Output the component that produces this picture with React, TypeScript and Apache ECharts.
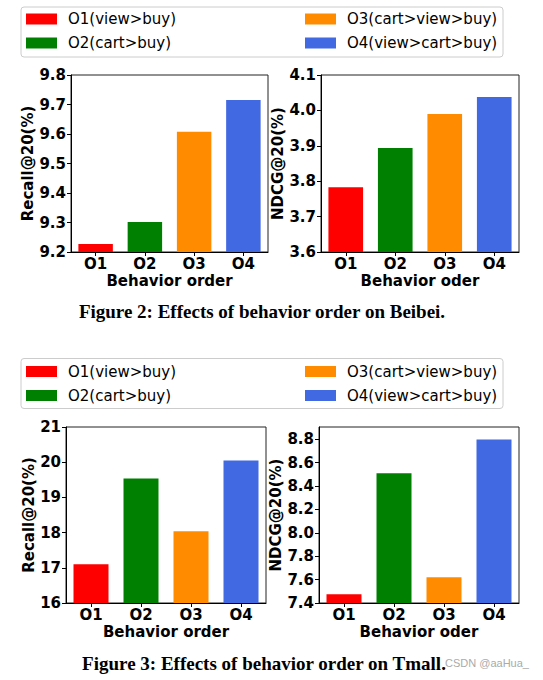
import React, { useEffect, useRef } from "react";
import * as echarts from "echarts";

const categories = ["O1", "O2", "O3", "O4"];
const legendNames = ["O1(view>buy)", "O2(cart>buy)", "O3(cart>view>buy)", "O4(view>cart>buy)"];
const colors = ["#ff0000", "#008000", "#ff8c00", "#4169e1"];

const beibeiRecall = [9.227, 9.302, 9.608, 9.715];
const beibeiNdcg = [3.783, 3.894, 3.99, 4.038];
const tmallRecall = [17.1, 19.54, 18.04, 20.05];
const tmallNdcg = [7.474, 8.509, 7.62, 8.798];

const tmallNdcgTicks = [7.4, 7.6, 7.8, 8.0, 8.2, 8.4, 8.6, 8.8];

const captionBeibei = "Figure 2: Effects of behavior order on Beibei.";
const captionTmall = "Figure 3: Effects of behavior order on Tmall.";
const watermark = "CSDN @aaHua_";

const FONT = "DejaVu Sans";

type Panel = {
  values: number[];
  yName: string;
  xName: string;
  min: number;
  max: number;
  interval: number;
  digits: number;
  grid: { left: number; top: number; width: number; height: number };
  nameGap: number;
  customTicks?: number[];
};

const panels: Panel[] = [
  { values: beibeiRecall, yName: "Recall@20(%)", xName: "Behavior order", min: 9.2, max: 9.8, interval: 0.1, digits: 1,
    grid: { left: 71, top: 75, width: 197, height: 177 }, nameGap: 31 },
  { values: beibeiNdcg, yName: "NDCG@20(%)", xName: "Behavior oder", min: 3.6, max: 4.1, interval: 0.1, digits: 1,
    grid: { left: 321, top: 75, width: 198, height: 177 }, nameGap: 29 },
  { values: tmallRecall, yName: "Recall@20(%)", xName: "Behavior order", min: 16, max: 21, interval: 1, digits: 0,
    grid: { left: 66, top: 427, width: 200, height: 176 }, nameGap: 26 },
  { values: tmallNdcg, yName: "NDCG@20(%)", xName: "Behavior oder", min: 7.4, max: 8.905, interval: 0.2, digits: 1,
    grid: { left: 319, top: 427, width: 200, height: 176 }, nameGap: 29, customTicks: tmallNdcgTicks },
];

export default function App() {
  const ref = useRef<HTMLDivElement>(null);
  useEffect(() => {
    if (!ref.current) return;
    const chart = echarts.init(ref.current, null, { renderer: "svg" });
    const boldText = { fontFamily: FONT, fontWeight: "bold" as const, fontSize: 15, color: "#000" };

    const grids = panels.map((p) => ({
      ...p.grid,
      show: true,
      borderColor: "#222",
      borderWidth: 1,
      backgroundColor: "transparent",
      containLabel: false,
    }));

    const xAxes = panels.map((p, i) => ({
      type: "category",
      gridIndex: i,
      data: categories,
      boundaryGap: true,
      axisLine: { show: true, lineStyle: { color: "#000", width: 1 } },
      axisTick: { show: true, alignWithLabel: true, length: 4, lineStyle: { color: "#000" } },
      axisLabel: { ...boldText, margin: 4 },
      name: p.xName,
      nameLocation: "middle",
      nameGap: 21,
      nameTextStyle: boldText,
    }));

    const yAxes = panels.map((p, i) => {
      const ax: any = {
        type: "value",
        gridIndex: i,
        min: p.min,
        max: p.max,
        interval: p.interval,
        axisLine: { show: true, lineStyle: { color: "#000", width: 1 } },
        axisTick: { show: true, length: 4, lineStyle: { color: "#000" } },
        axisLabel: {
          ...boldText,
          margin: 5,
          formatter: (v: number) => v.toFixed(p.digits),
        },
        splitLine: { show: false },
        name: p.yName,
        nameLocation: "middle",
        nameGap: p.nameGap,
        nameTextStyle: boldText,
      };
      if (p.customTicks) {
        ax.axisTick.customValues = p.customTicks;
        ax.axisLabel.customValues = p.customTicks;
      }
      return ax;
    });

    const series: any[] = [];
    panels.forEach((p, i) => {
      categories.forEach((_, k) => {
        series.push({
          type: "bar",
          name: legendNames[k],
          xAxisIndex: i,
          yAxisIndex: i,
          data: p.values.map((v, j) => (j === k ? v : "-")),
          barWidth: "70%",
          barGap: "-100%",
          itemStyle: { color: colors[k] },
          emphasis: { disabled: true },
        });
      });
    });

    const legendBase = {
      orient: "vertical",
      itemWidth: 31,
      itemHeight: 11,
      itemGap: 8,
      padding: 0,
      icon: "rect",
      selectedMode: false,
      z: 5,
      textStyle: { fontFamily: FONT, fontSize: 15, color: "#000", lineHeight: 16, padding: [0, 0, 0, 6] },
    };
    const legendTops = [11, 363.5];
    const legends: any[] = [];
    legendTops.forEach((top) => {
      legends.push({ ...legendBase, left: 26, top, data: [legendNames[0], legendNames[1]] });
      legends.push({ ...legendBase, left: 305, top, data: [legendNames[2], legendNames[3]] });
    });

    const frameTops = [7, 358.5];
    const graphic: any[] = frameTops.map((y) => ({
      type: "rect",
      z: 0,
      shape: { x: 21, y, width: 482, height: 50, r: 3 },
      style: { fill: "#fff", stroke: "#cccccc", lineWidth: 1 },
    }));
    graphic.push({
      type: "text",
      x: 262,
      y: 311,
      style: {
        text: captionBeibei,
        font: "bold 19px 'Liberation Serif'",
        fill: "#000",
        align: "center",
        verticalAlign: "middle",
      },
    });
    graphic.push({
      type: "text",
      x: 264,
      y: 663,
      style: {
        text: captionTmall,
        font: "bold 19px 'Liberation Serif'",
        fill: "#000",
        align: "center",
        verticalAlign: "middle",
      },
    });
    graphic.push({
      type: "text",
      x: 445,
      y: 663,
      z: 10,
      style: {
        text: watermark,
        font: "11px 'Liberation Sans'",
        fill: "#aaaaaa",
        align: "left",
        verticalAlign: "middle",
      },
    });

    chart.setOption({
      animation: false,
      backgroundColor: "#fff",
      grid: grids,
      xAxis: xAxes,
      yAxis: yAxes,
      legend: legends,
      series,
      graphic,
    });
    return () => chart.dispose();
  }, []);

  return (
    <div
      ref={ref}
      style={{ position: "fixed", left: 0, top: 0, width: 543, height: 680, background: "#fff" }}
    />
  );
}
